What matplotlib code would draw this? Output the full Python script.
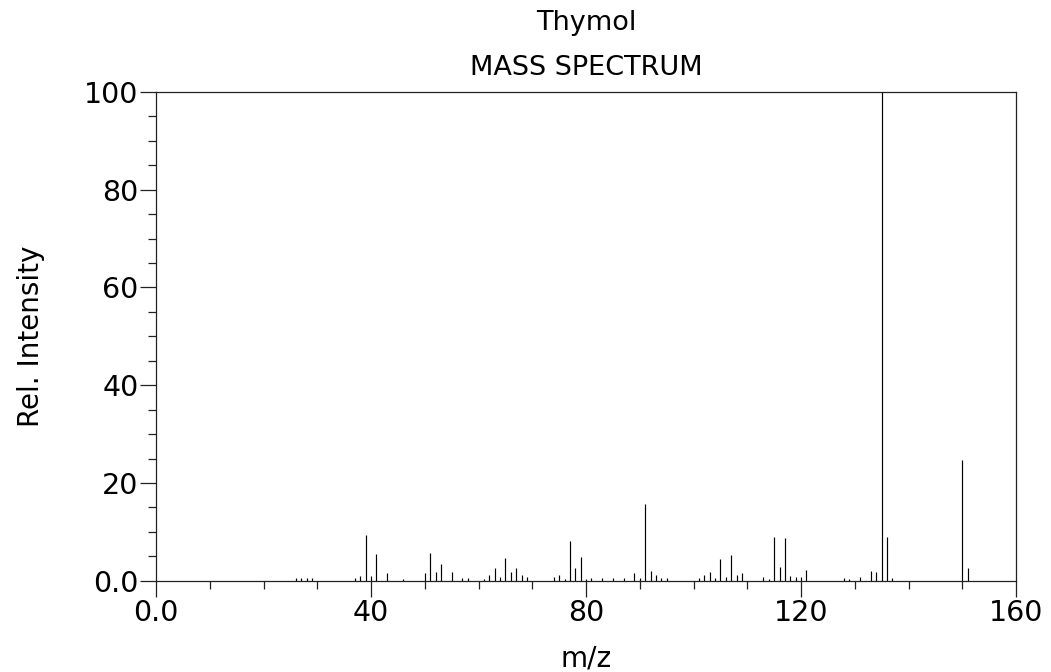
import matplotlib
matplotlib.use("Agg")
import matplotlib.pyplot as plt
from matplotlib.ticker import MultipleLocator

title = "Thymol"
subtitle = "MASS SPECTRUM"
mz = [26, 27, 28, 29, 37, 38, 39, 40, 41, 43, 46, 50, 51, 52, 53, 55, 57, 58,
      61, 62, 63, 64, 65, 66, 67, 68, 69, 74, 75, 76, 77, 78, 79, 80, 81, 83,
      85, 87, 89, 90, 91, 92, 93, 94, 95, 101, 102, 103, 104, 105, 106, 107,
      108, 109, 113, 114, 115, 116, 117, 118, 119, 120, 121, 128, 129, 131,
      133, 134, 135, 136, 137, 150, 151]
intensity = [0.5, 0.5, 0.5, 0.5, 0.5, 1.0, 9.3, 1.0, 5.5, 1.5, 0.3, 1.5, 5.7,
             1.8, 3.4, 1.8, 0.5, 0.5, 0.3, 1.2, 2.5, 0.8, 4.6, 1.8, 2.5, 1.2,
             0.8, 0.8, 1.2, 0.3, 8.1, 2.5, 4.9, 0.3, 0.5, 0.5, 0.5, 0.5, 1.5,
             0.5, 15.7, 2.0, 1.2, 0.5, 0.5, 0.5, 1.2, 1.8, 0.5, 4.4, 0.7, 5.2,
             1.2, 1.6, 0.7, 0.3, 9.0, 2.9, 8.8, 1.0, 0.7, 0.7, 2.2, 0.5, 0.3,
             0.7, 2.0, 1.7, 100.0, 8.9, 0.5, 24.7, 2.7]
x_major = [0, 40, 80, 120, 160]
x_labels = ["0.0", "40", "80", "120", "160"]
y_major = [0, 20, 40, 60, 80, 100]
y_labels = ["0.0", "20", "40", "60", "80", "100"]

fig = plt.figure(figsize=(10.51, 6.72), dpi=100)
ax = fig.add_axes([156/1051, 1-580.7/672, (1016-156)/1051, (580.7-92)/672])

ax.vlines(mz, 0, intensity, colors="black", linewidth=0.85)
ax.set_xlim(0, 160)
ax.set_ylim(0, 100)

ax.set_xticks(x_major)
ax.set_xticklabels(x_labels)
ax.xaxis.set_minor_locator(MultipleLocator(10))
ax.set_yticks(y_major)
ax.set_yticklabels(y_labels)
ax.yaxis.set_minor_locator(MultipleLocator(5))

for s in ax.spines.values():
    s.set_color("#222222")
    s.set_linewidth(0.9)

ax.tick_params(axis="both", which="major", length=11.5, width=0.9,
               color="#222222", labelsize=20.5, direction="out")
ax.tick_params(axis="both", which="minor", length=6, width=0.9,
               color="#222222", direction="out")
ax.tick_params(axis="x", which="major", pad=2)
ax.tick_params(axis="y", which="major", pad=1)

ax.set_xlabel("m/z", fontsize=20, labelpad=12)
ax.set_ylabel("Rel. Intensity", fontsize=20, labelpad=28)

fig.text(586/1051, 1-23/672, title, ha="center", va="center", fontsize=19.5)
fig.text(586/1051, 1-68/672, subtitle, ha="center", va="center", fontsize=19.5)

fig.savefig("out.png", dpi=100)
